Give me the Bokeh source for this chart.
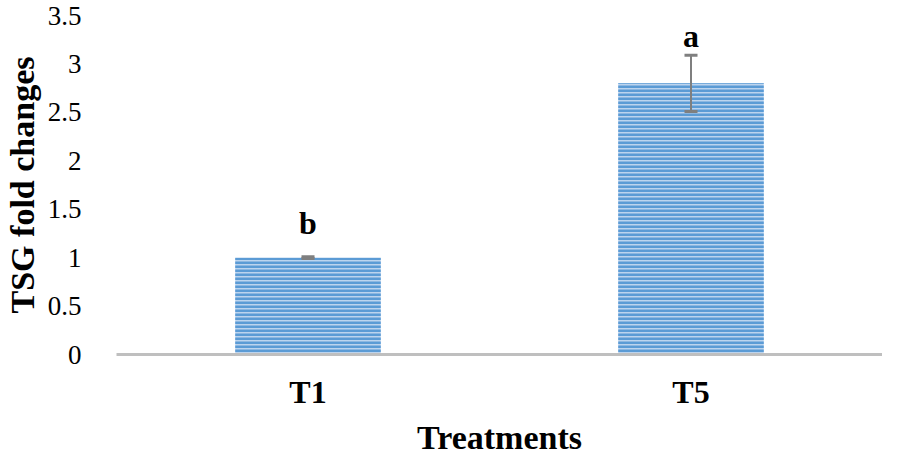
from bokeh.plotting import figure
from bokeh.models import ColumnDataSource, FixedTicker, Range1d
from bokeh.embed import file_html
from bokeh.resources import INLINE
from bokeh.core.properties import value

categories = ["T1", "T5"]
means = [1.0, 2.8]
errors = [0.01, 0.29]
letters = ["b", "a"]
letter_y = [1.36, 3.29]

upper = [m + e for m, e in zip(means, errors)]
lower = [m - e for m, e in zip(means, errors)]

src = ColumnDataSource(dict(x=categories, top=means, upper=upper, lower=lower,
                            letters=letters, ly=letter_y))

p = figure(x_range=categories, y_range=Range1d(0, 3.5), width=882, height=458,
           output_backend="svg", toolbar_location=None,
           min_border_left=112, min_border_right=0, min_border_top=15, min_border_bottom=0)
p.outline_line_color = None
p.grid.grid_line_color = None
p.x_range.range_padding = 0

p.vbar(x="x", top="top", width=0.38, source=src, fill_color="#bcd4ee",
       line_color=None, hatch_pattern="horizontal_line", hatch_color="#5b9bd5",
       hatch_scale=4, hatch_weight=3)

p.segment(x0="x", x1="x", y0="lower", y1="upper", source=src, line_color="#7f7f7f", line_width=2)
p.scatter(x="x", y="upper", source=src, marker="dash", size=13, line_color="#7f7f7f", line_width=3)
p.scatter(x="x", y="lower", source=src, marker="dash", size=13, line_color="#7f7f7f", line_width=3)

p.text(x="x", y="ly", text="letters", source=src, text_align="center", text_baseline="middle",
       text_font=value("Liberation Serif"), text_font_style="bold", text_font_size="32px",
       text_color="black")

font = "Liberation Serif"
p.yaxis.ticker = FixedTicker(ticks=[0, 0.5, 1, 1.5, 2, 2.5, 3, 3.5])
p.yaxis.axis_line_color = None
p.yaxis.major_tick_line_color = None
p.yaxis.minor_tick_line_color = None
p.yaxis.major_label_text_font = font
p.yaxis.major_label_text_font_size = "27px"
p.yaxis.major_label_text_color = "black"
p.yaxis.major_label_standoff = 29
p.yaxis.axis_label = "TSG fold changes"
p.yaxis.axis_label_text_font = font
p.yaxis.axis_label_text_font_style = "bold"
p.yaxis.axis_label_text_font_size = "34px"
p.yaxis.axis_label_text_color = "black"
p.yaxis.axis_label_standoff = 4

p.xaxis.axis_line_color = "#bfbfbf"
p.xaxis.axis_line_width = 3
p.xaxis.major_tick_line_color = None
p.xaxis.minor_tick_line_color = None
p.xaxis.major_label_text_font = font
p.xaxis.major_label_text_font_style = "bold"
p.xaxis.major_label_text_font_size = "32px"
p.xaxis.major_label_text_color = "black"
p.xaxis.major_label_standoff = 13
p.xaxis.axis_label = "Treatments"
p.xaxis.axis_label_text_font = font
p.xaxis.axis_label_text_font_style = "bold"
p.xaxis.axis_label_text_font_size = "34px"
p.xaxis.axis_label_text_color = "black"
p.xaxis.axis_label_standoff = 6

open("out.html", "w").write(file_html(p, INLINE))
